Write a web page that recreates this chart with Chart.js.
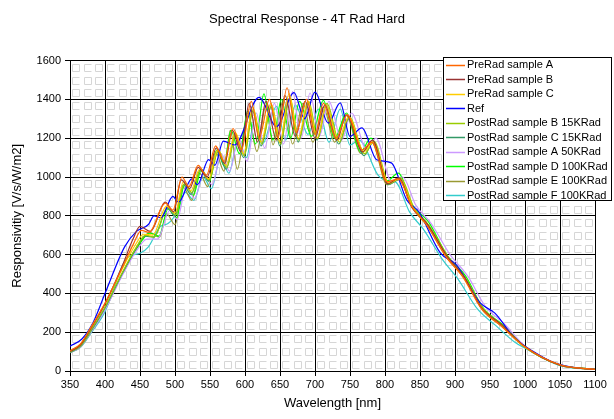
<!DOCTYPE html>
<html>
<head>
<meta charset="utf-8">
<script src="https://cdn.jsdelivr.net/npm/chart.js@4/dist/chart.umd.min.js"></script>
<style>
  html,body{margin:0;padding:0;background:#fff}
  #wrap{width:614px;height:419px;position:relative}
</style>
</head>
<body>
<div id="wrap"><canvas id="myChart" width="614" height="419"></canvas></div>
<script>
// wavelength [nm] / responsivity pairs, one pair of arrays per curve
var wlPreA=[350,365,380,400,425,440,452,463,486,497,510,520,533,545,558,570,583,595,609,620,635,647,660,673,688,700,712,730,746,768,781,803,819,838,860,887,912,938,965,1000,1050,1100]
var rPreA=[105,140,225,350,535,650,725,715,865,830,1000,950,1060,1010,1160,1080,1250,1140,1390,1200,1400,1200,1460,1230,1400,1220,1380,1200,1320,1140,1180,975,990,850,750,590,480,320,235,125,32,8]

var wlPreB=[350,365,380,400,425,440,450,465,486,498,509,521,533,546,559,571,582,594,606,618,630,645,657,672,686,700,714,731,745,768,782,804,820,838,861,888,913,938,966,1000,1050,1100]
var rPreB=[100,135,220,345,545,680,745,720,870,820,985,940,1050,1000,1150,1070,1240,1130,1380,1180,1390,1190,1420,1210,1390,1200,1370,1190,1320,1130,1190,965,995,845,755,595,485,325,240,125,30,8]

var wlPreC=[350,365,380,400,425,445,455,468,488,500,512,523,535,548,561,573,586,598,611,623,637,650,663,676,690,703,716,733,748,770,783,805,821,840,862,889,914,940,967,1000,1050,1100]
var rPreC=[102,138,225,348,530,660,705,700,850,815,975,930,1040,990,1140,1060,1230,1120,1360,1180,1380,1180,1430,1200,1390,1200,1370,1190,1310,1130,1180,970,990,840,745,585,475,315,232,122,30,8]

var wlRef=[350,367,383,400,428,445,462,470,480,497,505,524,532,548,557,569,585,620,645,670,685,700,719,736,750,767,788,809,831,848,879,902,936,957,985,1012,1040,1070,1100]
var rRef=[128,165,250,400,640,720,755,800,790,900,870,990,960,1090,1060,1185,1165,1410,1260,1435,1300,1437,1278,1382,1209,1253,1089,1073,882,822,609,547,351,298,170,100,45,18,8]

var wlPostB15=[350,365,380,400,425,445,458,470,490,501,513,524,537,549,562,574,587,599,612,624,638,651,664,677,691,704,717,735,749,771,784,806,822,841,863,890,915,941,968,1000,1050,1100]
var rPostB15=[98,130,210,330,510,640,700,690,845,805,965,920,1040,985,1140,1050,1220,1110,1350,1170,1370,1170,1410,1190,1390,1200,1380,1180,1310,1120,1185,965,995,845,750,590,480,320,235,124,31,8]

var wlPostC15=[350,365,380,400,425,445,457,470,489,500,512,523,536,548,561,573,586,598,611,623,637,650,663,676,690,703,716,734,748,770,783,805,821,840,862,889,914,940,967,1000,1050,1100]
var rPostC15=[96,128,205,325,505,635,695,690,840,800,960,910,1035,980,1130,1040,1215,1100,1340,1160,1360,1160,1400,1180,1380,1190,1370,1170,1300,1110,1180,960,990,840,748,588,478,318,233,123,31,8]

var wlPostA50=[350,365,380,400,425,445,460,475,493,503,516,528,541,553,566,578,591,603,616,628,642,655,668,680,693,706,720,738,752,774,787,809,825,844,866,893,918,944,970,1000,1050,1100]
var rPostA50=[95,125,200,315,495,620,680,680,830,780,950,890,1020,960,1120,1030,1200,1080,1330,1150,1380,1170,1440,1200,1433,1210,1390,1190,1330,1140,1200,980,1000,855,760,600,490,330,245,128,33,8]

var wlPostD100=[350,365,380,400,425,445,464,477,490,502,514,526,538,549,560,570,580,592,604,615,627,640,652,665,678,695,712,728,745,765,780,803,819,838,862,888,915,940,968,1000,1050,1100]
var rPostD100=[97,128,205,320,500,630,711,695,835,790,965,905,1040,975,1140,1060,1240,1120,1340,1170,1428,1190,1400,1200,1390,1210,1395,1200,1330,1130,1200,980,1020,860,770,600,490,325,240,126,32,8]

var wlPostE100=[350,365,380,400,425,445,464,478,488,500,512,524,535,547,558,570,579,589,604,617,630,640,655,668,683,697,712,728,744,766,781,803,820,839,861,888,914,939,966,1000,1050,1100]
var rPostE100=[95,125,200,318,500,630,715,690,810,755,945,880,1020,950,1130,1030,1240,1040,1330,1132,1370,1166,1400,1170,1380,1180,1360,1180,1320,1120,1180,960,985,840,745,585,475,315,232,122,30,8]

var wlPostF100=[350,365,380,400,431,450,462,479,490,503,515,527,540,552,565,577,590,602,614,625,645,658,672,690,705,720,736,750,763,790,805,815,835,855,882,905,932,958,985,1000,1050,1100]
var rPostF100=[94,122,195,305,581,607,640,745,760,820,920,880,1000,940,1100,1020,1190,1100,1300,1170,1364,1190,1370,1220,1350,1180,1350,1165,1190,1010,980,975,820,730,575,470,320,235,150,118,28,8]

var seriesNames=["PreRad sample A","PreRad sample B","PreRad sample C","Ref","PostRad sample B 15KRad","PostRad sample C 15KRad","PostRad sample A 50KRad","PostRad sample D 100KRad","PostRad sample E 100KRad","PostRad sample F 100KRad"]
var seriesColors=["#FF6600","#993333","#FFCC00","#0000FF","#99CC00","#339966","#CC99FF","#00FF00","#999933","#33CCCC"]
var seriesX=[wlPreA,wlPreB,wlPreC,wlRef,wlPostB15,wlPostC15,wlPostA50,wlPostD100,wlPostE100,wlPostF100]
var seriesY=[rPreA,rPreB,rPreC,rRef,rPostB15,rPostC15,rPostA50,rPostD100,rPostE100,rPostF100]

var xMin=350, xMax=1100, xStep=50
var yMin=0, yMax=1600, yStep=200

var FONT="'Liberation Sans', Arial, sans-serif"

var datasets=[]
for(let i=0;i<seriesNames.length;i++)
{
    datasets.push({
        label: seriesNames[i],
        data: seriesX[i].map(function(w,j){ return {x:w, y:seriesY[i][j]} }),
        borderColor: seriesColors[i],
        backgroundColor: seriesColors[i],
        borderWidth: 1.2,
        pointRadius: 0,
        fill: false,
        cubicInterpolationMode: 'monotone'
    })
}

// the grey hatch fill behind the grid
const hatchPlugin = {
    id: 'hatch',
    beforeDraw(chart){
        const ctx=chart.ctx, a=chart.chartArea
        ctx.save()
        ctx.fillStyle='#fff'
        ctx.fillRect(0,0,chart.width,chart.height)
        ctx.beginPath()
        ctx.rect(a.left,a.top,a.right-a.left,a.bottom-a.top)
        ctx.clip()
        ctx.strokeStyle='#d6d6d6'
        ctx.lineWidth=1
        const cw=(a.right-a.left)/45, ch=(a.bottom-a.top)/24
        for(let r=0;r<24;r++){
            for(let c=0;c<45;c++){
                const x=Math.round(a.left+c*cw+2)+0.5, y=Math.round(a.top+r*ch+3)+0.5
                ctx.beginPath()
                ctx.moveTo(x+7,y); ctx.lineTo(x,y); ctx.lineTo(x,y+7); ctx.lineTo(x+7,y+7)
                if((r+c)%2===0){ ctx.moveTo(x+7,y); ctx.lineTo(x+7,y+7) }
                ctx.stroke()
            }
        }
        ctx.restore()
    }
}

// legend box in the top right corner
const boxLegend = {
    id: 'boxLegend',
    afterDraw(chart){
        const ctx=chart.ctx
        const bx=443.5, by=57.5, bw=168, bh=143
        ctx.save()
        ctx.fillStyle='#fff'
        ctx.fillRect(bx,by,bw,bh)
        ctx.strokeStyle='#000'
        ctx.lineWidth=1
        ctx.strokeRect(bx,by,bw,bh)
        ctx.font='11px '+FONT
        ctx.textBaseline='middle'
        ctx.fillStyle='#000'
        for(let i=0;i<seriesNames.length;i++){
            const y=64.5+i*14.5
            ctx.strokeStyle=seriesColors[i]
            ctx.lineWidth=1.5
            ctx.beginPath()
            ctx.moveTo(446,Math.round(y)+0.5)
            ctx.lineTo(465,Math.round(y)+0.5)
            ctx.stroke()
            ctx.fillText(seriesNames[i],467,y+0.5)
        }
        ctx.restore()
    }
}

function plain(v){ return String(v) }

var ctx=document.getElementById('myChart')
var myChart=new Chart(ctx,{
    type:'line',
    data:{datasets:datasets},
    plugins:[hatchPlugin,boxLegend],
    options:{
        responsive:false,
        animation:false,
        devicePixelRatio:1,
        layout:{padding:0},
        plugins:{
            legend:{display:false},
            tooltip:{enabled:false},
            title:{
                display:true,
                text:'Spectral Response - 4T Rad Hard',
                color:'#000',
                font:{family:FONT,size:13,weight:'normal'},
                padding:{top:12,bottom:33}
            }
        },
        scales:{
            x:{
                type:'linear',
                min:xMin,max:xMax,
                afterFit(scale){ scale.height=48 },
                ticks:{stepSize:xStep,color:'#000',font:{family:FONT,size:11},padding:2,maxRotation:0,callback:plain},
                grid:{color:'#000',lineWidth:1,tickLength:5},
                border:{color:'#000',width:1},
                title:{display:true,text:'Wavelength [nm]',color:'#000',font:{family:FONT,size:13},padding:{top:2,bottom:8}}
            },
            y:{
                min:yMin,max:yMax,
                afterFit(scale){ scale.width=70 },
                ticks:{stepSize:yStep,color:'#000',font:{family:FONT,size:11},padding:4,callback:plain},
                grid:{color:'#000',lineWidth:1,tickLength:5},
                border:{color:'#000',width:1},
                title:{display:true,text:'Responsivitiy [V/s/W/m2]',color:'#000',font:{family:FONT,size:13},padding:{top:10,bottom:0}}
            },
            // empty right-hand box that keeps the plot edge at 1100 nm where the reference has it
            yPad:{
                position:'right',
                min:yMin,max:yMax,
                afterFit(scale){ scale.width=19 },
                ticks:{display:false},
                grid:{display:false},
                border:{display:false}
            }
        }
    }
})
</script>
</body>
</html>
